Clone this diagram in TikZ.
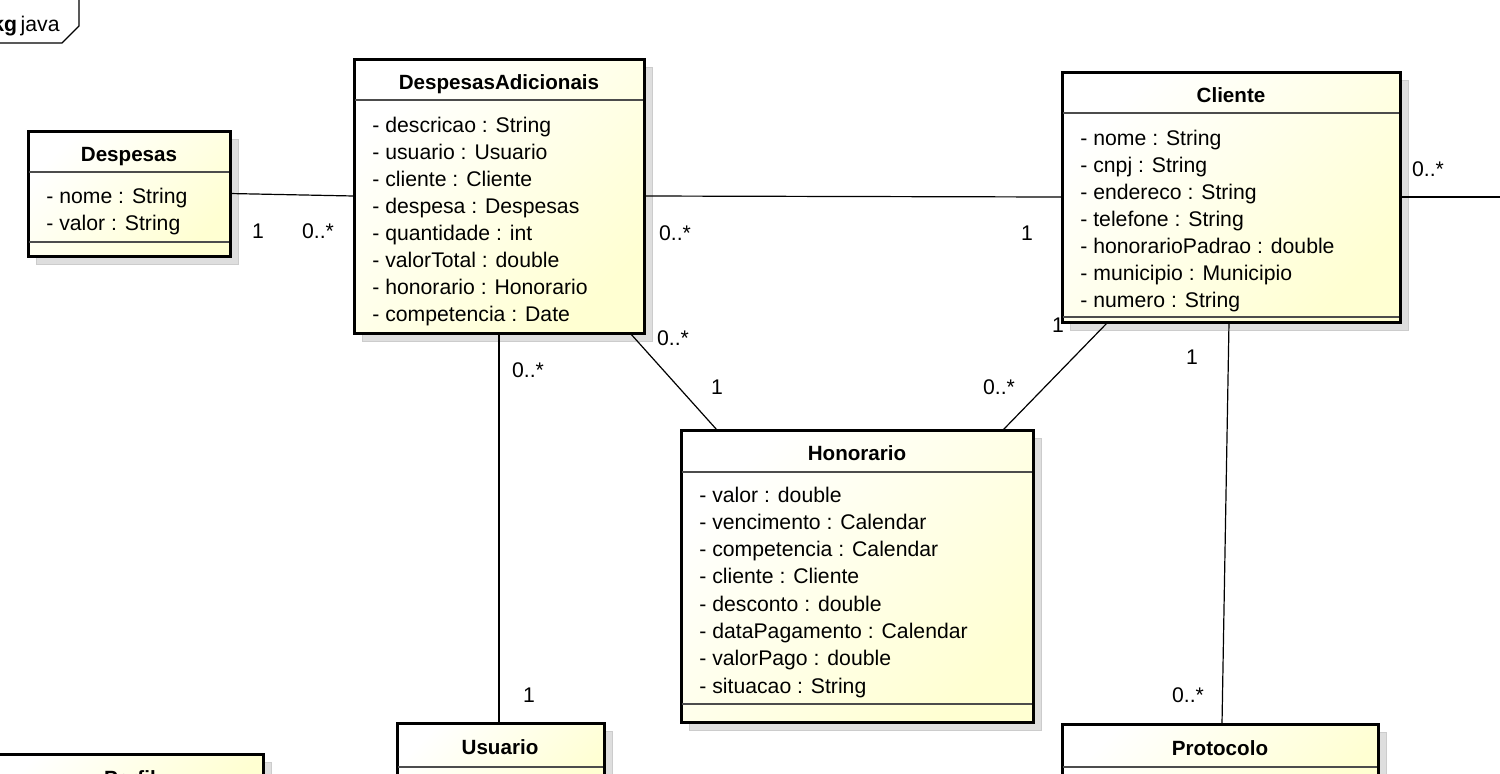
\documentclass[tikz,border=0pt]{standalone}
\usepackage{fontspec}
\setmainfont{Liberation Sans}
\usetikzlibrary{fit,calc}
\definecolor{boxyel}{RGB}{255,255,210}
\definecolor{shadowgray}{RGB}{222,222,222}
\begin{document}
\begin{tikzpicture}[x=0.5pt,y=-0.5pt,
  umlbox/.style={draw=black, line width=1.5pt, top color=white, bottom color=boxyel, shading angle=45, inner sep=0pt, outer sep=0pt},
  shadowbox/.style={fill=shadowgray, draw=gray!40, line width=0.5pt},
  sepline/.style={draw=black!70, line width=0.6pt},
  title/.style={font=\fontsize{10.3}{12}\selectfont\bfseries, anchor=base, inner sep=0pt},
  attr/.style={font=\fontsize{10.6}{12}\selectfont, anchor=base west, inner sep=0pt},
  mult/.style={font=\fontsize{10.6}{12}\selectfont, inner sep=0pt},
  conn/.style={draw=black, line width=0.6pt}]
\useasboundingbox (0,0) rectangle (1500,773);
\clip (0,0) rectangle (1500,773);

% package tab
\draw[line width=0.6pt] (-5,43) -- (62,43) -- (79,26) -- (79,-5);
\node[anchor=base east, inner sep=0pt, font=\fontsize{10.6}{12}\selectfont] (pkg) at (60,31) {\textbf{pkg}\,java};

% shadows
\fill[shadowbox] (36,139) rectangle (238,264);
\fill[shadowbox] (362,67) rectangle (652,341);
\fill[shadowbox] (1070,80) rectangle (1408,330);
\fill[shadowbox] (689,438) rectangle (1041,730);
\fill[shadowbox] (405,731) rectangle (612,800);
\fill[shadowbox] (-10,762) rectangle (271,800);
\fill[shadowbox] (1070,732) rectangle (1386,800);

% box geometry
\path (28,131) coordinate (desTL) (230,256) coordinate (desBR);
\path (354,59) coordinate (daTL) (644,333) coordinate (daBR);
\path (1062,72) coordinate (cliTL) (1400,322) coordinate (cliBR);
\path (681,430) coordinate (honTL) (1033,722) coordinate (honBR);
\path (397,723) coordinate (usuTL) (604,800) coordinate (usuBR);
\path (-10,754) coordinate (perTL) (263,800) coordinate (perBR);
\path (1062,724) coordinate (proTL) (1378,800) coordinate (proBR);
\coordinate (rightend) at (1500,197);

\node[fit=(desTL)(desBR), inner sep=0pt, outer sep=0pt] (des) {};
\node[fit=(daTL)(daBR), inner sep=0pt, outer sep=0pt] (da) {};
\node[fit=(cliTL)(cliBR), inner sep=0pt, outer sep=0pt] (cli) {};
\node[fit=(honTL)(honBR), inner sep=0pt, outer sep=0pt] (hon) {};
\node[fit=(usuTL)(usuBR), inner sep=0pt, outer sep=0pt] (usu) {};
\node[fit=(proTL)(proBR), inner sep=0pt, outer sep=0pt] (pro) {};

% connectors
\draw[conn] (des.east) -- (da.west);
\draw[conn] (da.east) -- (cli.west);
\draw[conn] (cli.east) -- (rightend);
\draw[conn] (da.south) -- (da.south |- usu.north);
\draw[conn] ([xshift=-7pt]da.south east) -- ([xshift=18pt]hon.north west);
\draw[conn] ([xshift=23pt]cli.south west) -- ([xshift=-15pt]hon.north east);
\draw[conn] ([xshift=-1pt]cli.south) -- ([xshift=1pt]pro.north);

% multiplicities
\node[mult] (m1) at (258,231) {1};
\node[mult] (m2) at (318,231) {0..*};
\node[mult] (m3) at (675,233) {0..*};
\node[mult] (m4) at (1027,233) {1};
\node[mult] (m5) at (1428,169) {0..*};
\node[mult] (m6) at (528,370) {0..*};
\node[mult] (m7) at (529,695) {1};
\node[mult] (m8) at (673,338) {0..*};
\node[mult] (m9) at (717,387) {1};
\node[mult] (m10) at (999,387) {0..*};
\node[mult] (m11) at (1058,325) {1};
\node[mult] (m12) at (1192,357) {1};
\node[mult] (m13) at (1188,695) {0..*};

% boxes
\path[umlbox] (desTL) rectangle (desBR);
\path[umlbox] (daTL) rectangle (daBR);
\path[umlbox] (cliTL) rectangle (cliBR);
\path[umlbox] (honTL) rectangle (honBR);
\path[umlbox] (usuTL) rectangle (usuBR);
\path[umlbox] (perTL) rectangle (perBR);
\path[umlbox] (proTL) rectangle (proBR);

% Despesas
\draw[sepline] (29,172) -- (229,172);
\draw[sepline] (29,242) -- (229,242);
\node[title] (desT) at (129,161) {Despesas};
\foreach \t [count=\i] in {- nome : String,- valor : String}
  \node[attr, name=desA\i] at (46,{203+27*(\i-1)}) {\t};

% DespesasAdicionais
\draw[sepline] (355,100) -- (643,100);
\node[title] (daT) at (499,89) {DespesasAdicionais};
\foreach \t [count=\i] in {- descricao : String,- usuario : Usuario,- cliente : Cliente,- despesa : Despesas,- quantidade : int,- valorTotal : double,- honorario : Honorario,- competencia : Date}
  \node[attr, name=daA\i] at (372,{132+27*(\i-1)}) {\t};

% Cliente
\draw[sepline] (1063,113) -- (1399,113);
\draw[sepline] (1063,317) -- (1399,317);
\node[title] (cliT) at (1231,102) {Cliente};
\foreach \t [count=\i] in {- nome : String,- cnpj : String,- endereco : String,- telefone : String,- honorarioPadrao : double,- municipio : Municipio,- numero : String}
  \node[attr, name=cliA\i] at (1080,{145+27.1*(\i-1)}) {\t};

% Honorario
\draw[sepline] (682,472) -- (1032,472);
\draw[sepline] (682,704) -- (1032,704);
\node[title] (honT) at (857,460) {Honorario};
\foreach \t [count=\i] in {- valor : double,- vencimento : Calendar,- competencia : Calendar,- cliente : Cliente,- desconto : double,- dataPagamento : Calendar,- valorPago : double,- situacao : String}
  \node[attr, name=honA\i] at (699,{502+27.3*(\i-1)}) {\t};

% Usuario
\draw[sepline] (398,767) -- (603,767);
\node[title] (usuT) at (500,754) {Usuario};

% Perfil
\node[title] (perT) at (130,785) {Perfil};

% Protocolo
\draw[sepline] (1063,767) -- (1377,767);
\node[title] (proT) at (1220,755) {Protocolo};
\end{tikzpicture}
\end{document}
